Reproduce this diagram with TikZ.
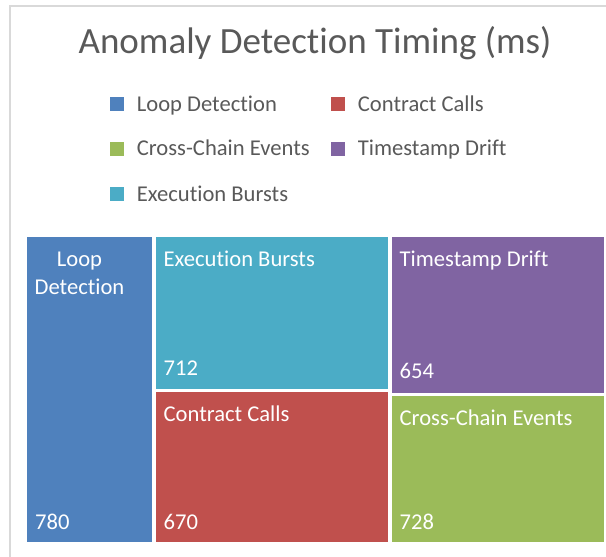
\documentclass[tikz,border=0pt]{standalone}
\usepackage{fontspec}
\setmainfont{Carlito}[RawFeature=-liga]
\usetikzlibrary{positioning}
\definecolor{loopblue}{HTML}{4F81BD}
\definecolor{callred}{HTML}{C0504D}
\definecolor{chaingreen}{HTML}{9BBB59}
\definecolor{driftpurple}{HTML}{8064A2}
\definecolor{burstcyan}{HTML}{4BACC6}
\definecolor{titlegray}{HTML}{595959}
\definecolor{framegray}{HTML}{D9D9D9}
\begin{document}
\begin{tikzpicture}[x=1pt,y=-1pt,
    tile/.style={inner sep=0pt, outer sep=0pt, anchor=north west},
    celltext/.style={text=white, font=\fontsize{22.6}{28}\selectfont, inner sep=0pt},
    keybox/.style={minimum size=14pt, inner sep=0pt, outer sep=0pt},
    keytext/.style={text=titlegray, font=\fontsize{22.6}{28}\selectfont, inner sep=0pt, anchor=base west}]
  \useasboundingbox (0,0) rectangle (606,557);
  \draw[framegray, line width=2pt] (10,557) -- (10,6) -- (606,6);
  \node[text=titlegray, font=\fontsize{37}{44}\selectfont, inner sep=0pt, anchor=base] (title) at (315,53) {Anomaly Detection Timing (ms)};
  % legend
  \node[keybox, fill=loopblue] (kloop) at (117,104) {};
  \node[keytext] (tloop) at ([xshift=12.7pt]kloop.south east) {Loop Detection};
  \node[keybox, fill=callred] (kcall) at (338,104) {};
  \node[keytext] (tcall) at ([xshift=12.7pt]kcall.south east) {Contract Calls};
  \node[keybox, fill=chaingreen] (kchain) at (117,148.7) {};
  \node[keytext] (tchain) at ([xshift=12.7pt]kchain.south east) {Cross-Chain Events};
  \node[keybox, fill=driftpurple] (kdrift) at (338,148.7) {};
  \node[keytext] (tdrift) at ([xshift=12.7pt]kdrift.south east) {Timestamp Drift};
  \node[keybox, fill=burstcyan] (kburst) at (117,194) {};
  \node[keytext] (tburst) at ([xshift=12.7pt]kburst.south east) {Execution Bursts};
  % tiles
  \node[tile, fill=loopblue, minimum width=124.5pt, minimum height=304.5pt] (loop) at (27,237) {};
  \node[tile, fill=burstcyan, minimum width=232pt, minimum height=151.5pt] (burst) at (155.5,237) {};
  \node[tile, fill=callred, minimum width=232pt, minimum height=150pt] (call) at (155.5,391.5) {};
  \node[tile, fill=driftpurple, minimum width=212.5pt, minimum height=155.5pt] (drift) at (391.5,237) {};
  \node[tile, fill=chaingreen, minimum width=212.5pt, minimum height=145.5pt] (chain) at (391.5,396) {};
  % tile labels
  \node[celltext, anchor=base] (loopname) at (79.5,266) {Loop};
  \node[celltext, anchor=base] (loopname2) at (79.5,294.3) {Detection};
  \node[celltext, anchor=base west] (loopval) at ([xshift=8pt,yshift=12pt]loop.south west) {780};
  \node[celltext, anchor=base west] (burstname) at ([xshift=8pt,yshift=-29.5pt]burst.north west) {Execution Bursts};
  \node[celltext, anchor=base west] (burstval) at ([xshift=8pt,yshift=13.5pt]burst.south west) {712};
  \node[celltext, anchor=base west] (callname) at ([xshift=8pt,yshift=-30pt]call.north west) {Contract Calls};
  \node[celltext, anchor=base west] (callval) at ([xshift=8pt,yshift=12pt]call.south west) {670};
  \node[celltext, anchor=base west] (driftname) at ([xshift=8pt,yshift=-29.5pt]drift.north west) {Timestamp Drift};
  \node[celltext, anchor=base west] (driftval) at ([xshift=8pt,yshift=14pt]drift.south west) {654};
  \node[celltext, anchor=base west] (chainname) at ([xshift=8pt,yshift=-29pt]chain.north west) {Cross-Chain Events};
  \node[celltext, anchor=base west] (chainval) at ([xshift=8pt,yshift=12pt]chain.south west) {728};
\end{tikzpicture}
\end{document}
